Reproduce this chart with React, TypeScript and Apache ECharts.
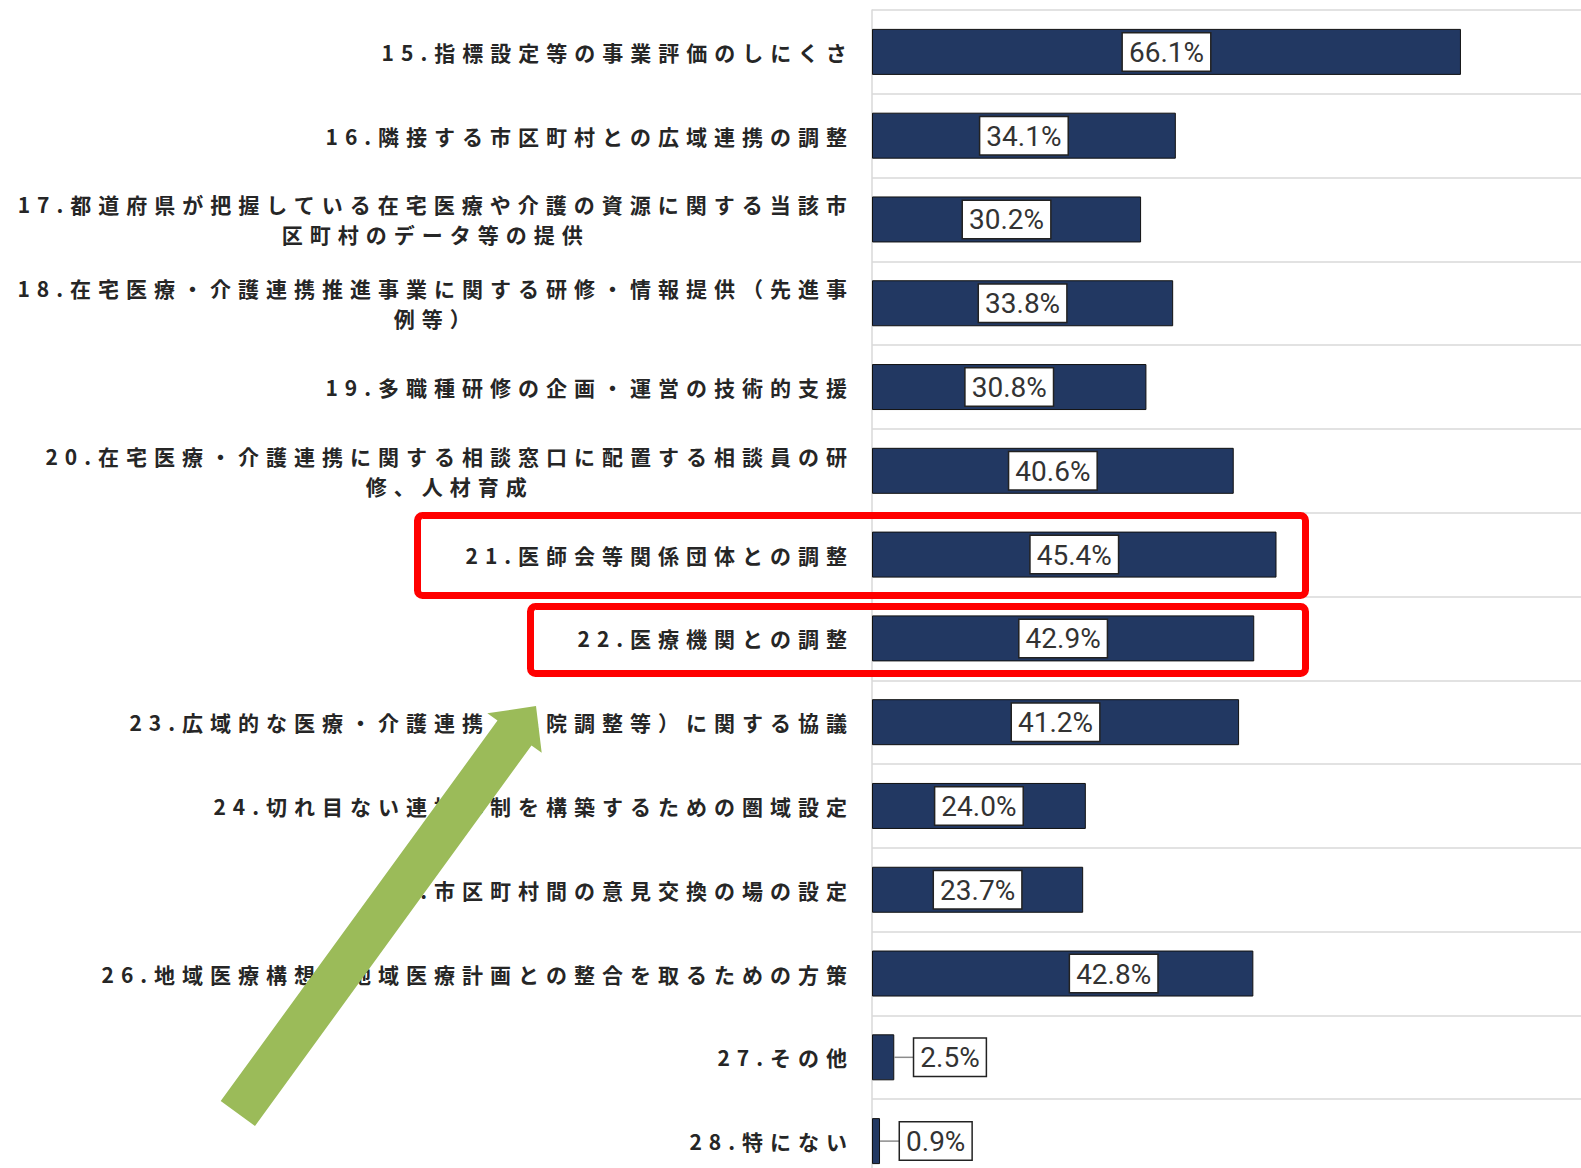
import React, { useEffect, useRef } from 'react';
import * as echarts from 'echarts';

// ---- data ----
const categories: string[] = [
  '15.指標設定等の事業評価のしにくさ',
  '16.隣接する市区町村との広域連携の調整',
  '17.都道府県が把握している在宅医療や介護の資源に関する当該市\n区町村のデータ等の提供',
  '18.在宅医療・介護連携推進事業に関する研修・情報提供（先進事\n例等）',
  '19.多職種研修の企画・運営の技術的支援',
  '20.在宅医療・介護連携に関する相談窓口に配置する相談員の研\n修、人材育成',
  '21.医師会等関係団体との調整',
  '22.医療機関との調整',
  '23.広域的な医療・介護連携（退院調整等）に関する協議',
  '24.切れ目ない連携体制を構築するための圏域設定',
  '25.市区町村間の意見交換の場の設定',
  '26.地域医療構想・地域医療計画との整合を取るための方策',
  '27.その他',
  '28.特にない',
];
const values: number[] = [66.1, 34.1, 30.2, 33.8, 30.8, 40.6, 45.4, 42.9, 41.2, 24.0, 23.7, 42.8, 2.5, 0.9];
const outsideLabelLimit = 5; // values below this get their label outside the bar

// ---- styles ----
const CAT_FONT = 'Noto Sans CJK JP';
const VAL_FONT = 'Roboto';
const LETTER_SPACING = 7;
const BAR_COLOR = '#223862';

// Text measuring that knows about the letter spacing used for the category labels
const measureCanvas = document.createElement('canvas');
const measureCtx = measureCanvas.getContext('2d') as CanvasRenderingContext2D;
echarts.setPlatformAPI({
  measureText(text: string, font?: string) {
    const f = font || '12px sans-serif';
    measureCtx.font = f;
    let w = measureCtx.measureText(text).width;
    if (f.indexOf(CAT_FONT) >= 0) w += LETTER_SPACING * Array.from(text).length;
    return { width: w };
  },
} as any);

const css = `.chartbox text[style*="${CAT_FONT}"] { letter-spacing: ${LETTER_SPACING}px; }`;

// annotation shapes (drawn on top of the chart)
const arrowPoints: number[][] = [
  [220.7, 1101],
  [497.5, 720.6],
  [487.3, 713.3],
  [536, 706],
  [541.7, 752.7],
  [531.5, 745.4],
  [255, 1126],
];

export default function App() {
  const ref = useRef<HTMLDivElement>(null);

  useEffect(() => {
    if (!ref.current) return;
    const chart = echarts.init(ref.current, null, { renderer: 'svg' });
    const fmt = (v: number) => v.toFixed(1) + '%';
    // label of the 26th item sits right of the bar centre in the original
    const labelShift: Record<number, number[]> = { 11: [51, 0] };
    chart.setOption({
      animation: false,
      backgroundColor: '#ffffff',
      grid: { left: 872, top: 10, width: 891, height: 1173, containLabel: false },
      xAxis: { type: 'value', min: 0, max: 100, show: false },
      yAxis: {
        type: 'category',
        inverse: true,
        data: categories,
        axisLine: { show: true, lineStyle: { color: '#d9d9d9', width: 1.5 } },
        axisTick: { show: false },
        splitLine: { show: true, lineStyle: { color: '#d9d9d9', width: 1.5 } },
        axisLabel: {
          interval: 0,
          margin: 18,
          fontSize: 21,
          fontFamily: CAT_FONT,
          fontWeight: 'bold',
          color: '#262626',
          lineHeight: 30,
          formatter: (v: string) => v.split('\n').map((l) => `{c|${l}}`).join('\n'),
          rich: {
            c: {
              align: 'center',
              fontSize: 21,
              fontFamily: CAT_FONT,
              fontWeight: 'bold',
              color: '#262626',
              lineHeight: 30,
            },
          },
        },
      },
      series: [
        {
          type: 'bar',
          barWidth: 46,
          data: values.map((v, i) => {
            if (v < outsideLabelLimit) return { value: v, label: { position: 'right', distance: 0 } };
            if (labelShift[i]) return { value: v, label: { offset: labelShift[i] } };
            return v;
          }),
          itemStyle: { color: BAR_COLOR, borderColor: '#111', borderWidth: 1 },
          label: {
            show: true,
            position: 'inside',
            formatter: (p: any) =>
              p.value < outsideLabelLimit ? `{ln|}{box|${fmt(p.value)}}` : `{box|${fmt(p.value)}}`,
            rich: {
              box: {
                backgroundColor: '#ffffff',
                borderColor: '#222',
                borderWidth: 1.5,
                padding: [5, 6, 4, 6],
                fontSize: 28,
                fontFamily: VAL_FONT,
                color: '#333',
                textBorderWidth: 0,
              },
              ln: { width: 20, height: 1.5, backgroundColor: '#8c8c8c' },
            },
          },
        },
      ],
      graphic: [
        {
          type: 'rect',
          z: 100,
          shape: { x: 417.5, y: 515.5, width: 888, height: 80, r: 5 },
          style: { fill: 'none', stroke: '#ff0000', lineWidth: 7 },
        },
        {
          type: 'rect',
          z: 100,
          shape: { x: 530.5, y: 606.5, width: 775, height: 67, r: 5 },
          style: { fill: 'none', stroke: '#ff0000', lineWidth: 7 },
        },
        {
          type: 'polygon',
          z: 101,
          shape: { points: arrowPoints },
          style: { fill: '#9BBB59' },
        },
      ],
    });
    return () => chart.dispose();
  }, []);

  return (
    <>
      <style>{css}</style>
      <div
        style={{
          position: 'absolute',
          left: 0,
          top: 0,
          width: 1581,
          height: 1168,
          overflow: 'hidden',
          background: '#fff',
        }}
      >
        <div ref={ref} className="chartbox" style={{ width: 1800, height: 1200 }} />
      </div>
    </>
  );
}
